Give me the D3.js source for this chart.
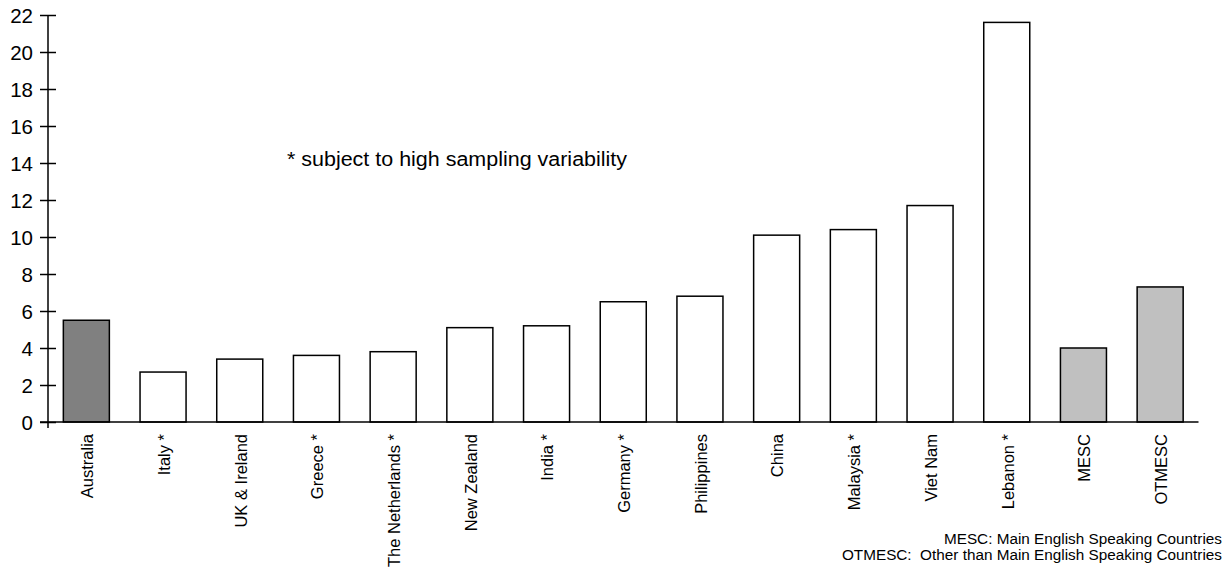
<!DOCTYPE html>
<html>
<head>
<meta charset="utf-8">
<script src="https://cdn.jsdelivr.net/npm/d3@7"></script>
<style>
    body { margin: 0; background: #fff; }
    svg { display: block; font-family: Arial, "Liberation Sans", sans-serif; }
</style>
</head>
<body>
<div id="chart"></div>
<script>
// categories and values
const countries = ['Australia', 'Italy *', 'UK & Ireland', 'Greece *', 'The Netherlands *', 'New Zealand',
    'India *', 'Germany *', 'Philippines', 'China', 'Malaysia *', 'Viet Nam', 'Lebanon *', 'MESC', 'OTMESC'];
const values = [5.5, 2.7, 3.4, 3.6, 3.8, 5.1, 5.2, 6.5, 6.8, 10.1, 10.4, 11.7, 21.6, 4.0, 7.3];
const groups = ['aus', 'birth', 'birth', 'birth', 'birth', 'birth', 'birth', 'birth', 'birth', 'birth',
    'birth', 'birth', 'birth', 'total', 'total'];
const yTicks = [0, 2, 4, 6, 8, 10, 12, 14, 16, 18, 20, 22];
const note = '* subject to high sampling variability';
const footnotes = ['MESC: Main English Speaking Countries', 'OTMESC:  Other than Main English Speaking Countries'];

const data = countries.map((c, i) => ({name: c, value: values[i], group: groups[i]}));
const fills = {aus: '#808080', birth: '#ffffff', total: '#c0c0c0'};

const width = 1230, height = 569;
const x0 = 48, x1 = 1198.5, yBase = 422, yTop = 15;

const svg = d3.select('#chart').append('svg')
    .attr('width', width)
    .attr('height', height);

const xScale = d3.scaleBand()
    .domain(countries)
    .range([x0, x1])
    .paddingInner(0.4)
    .paddingOuter(0.2);

const yScale = d3.scaleLinear()
    .domain([0, 22])
    .range([yBase, yTop]);

// bars
svg.append('g').selectAll('rect')
    .data(data)
    .join('rect')
    .attr('x', d => xScale(d.name))
    .attr('y', d => yScale(d.value))
    .attr('width', xScale.bandwidth())
    .attr('height', d => yScale(0) - yScale(d.value))
    .attr('fill', d => fills[d.group])
    .attr('stroke', '#000')
    .attr('stroke-width', 1.5);

// y axis with ticks crossing the line
const yAxis = d3.axisLeft(yScale)
    .tickValues(yTicks)
    .tickSizeInner(8)
    .tickSizeOuter(0)
    .tickPadding(6);

const yAxisG = svg.append('g')
    .attr('transform', `translate(${x0},0)`)
    .call(yAxis);
yAxisG.select('.domain').remove();
yAxisG.selectAll('.tick line')
    .attr('x1', 8)
    .attr('x2', -8)
    .attr('stroke', '#000')
    .attr('stroke-width', 1.5);
yAxisG.selectAll('.tick text')
    .attr('x', -15)
    .attr('dy', '0.36em')
    .attr('fill', '#000')
    .style('font-size', '20.5px')
    .style('font-family', 'Arial, "Liberation Sans", sans-serif');
yAxisG.append('line')
    .attr('y1', yTop)
    .attr('y2', yBase + 6)
    .attr('stroke', '#000')
    .attr('stroke-width', 1.5);

// x axis line, labels rotated
svg.append('line')
    .attr('x1', 40)
    .attr('x2', x1)
    .attr('y1', yBase)
    .attr('y2', yBase)
    .attr('stroke', '#000')
    .attr('stroke-width', 1.5);

svg.append('g').selectAll('text')
    .data(countries)
    .join('text')
    .attr('transform', d => `translate(${xScale(d) + xScale.bandwidth() / 2 + 1},${yBase + 12}) rotate(-90)`)
    .attr('dy', '0.35em')
    .style('text-anchor', 'end')
    .style('font-size', '16.5px')
    .text(d => d);

svg.append('text')
    .attr('x', 287)
    .attr('y', 166)
    .attr('textLength', 340)
    .attr('lengthAdjust', 'spacingAndGlyphs')
    .style('font-size', '20px')
    .text(note);

svg.append('g').selectAll('text')
    .data(footnotes)
    .join('text')
    .attr('x', 1222)
    .attr('y', (d, i) => 544 + i * 15.5)
    .style('text-anchor', 'end')
    .style('white-space', 'pre')
    .style('font-size', '15.3px')
    .text(d => d);
</script>
</body>
</html>
